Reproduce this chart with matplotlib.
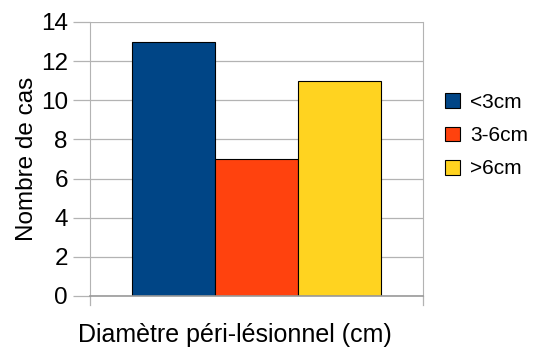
import matplotlib

matplotlib.use("Agg")
import matplotlib.pyplot as plt
import numpy as np

# Number of cases by peri-lesional diameter class
classes = ["<3cm", "3-6cm", ">6cm"]
counts = [13, 7, 11]
colors = ["#004586", "#ff420e", "#ffd320"]

plt.rcParams["font.family"] = ["Liberation Sans", "DejaVu Sans"]

fig = plt.figure(figsize=(5.39, 3.47), dpi=100)
ax = fig.add_axes([90 / 539, 51 / 347, 333 / 539, 274 / 347])

bar_w = 0.25
offsets = (np.arange(len(classes)) - 1) * bar_w
for off, val, col, lab in zip(offsets, counts, colors, classes):
    ax.bar(off, val, width=bar_w, color=col, edgecolor="black",
           linewidth=0.8, label=lab, zorder=3)

ax.set_xlim(-0.5, 0.5)
ax.set_ylim(0, 14)
ax.set_yticks(range(0, 15, 2))
ax.set_xticks([])
ax.grid(axis="y", color="#b3b3b3", linewidth=0.9, zorder=0)

for side in ["top", "bottom"]:
    ax.spines[side].set_visible(False)
ax.spines["left"].set_color("#b3b3b3")
ax.spines["right"].set_color("#b3b3b3")
ax.axhline(0, color="#999999", linewidth=1.2, zorder=4, clip_on=False)
ax.tick_params(axis="y", length=12, color="#b3b3b3", width=0.9,
               labelsize=17.5, pad=4)

# category boundary ticks below the baseline
for xb in (-0.5, 0.5):
    ax.plot([xb, xb], [0, -0.45], color="#b3b3b3", linewidth=0.9,
            clip_on=False)

ax.set_ylabel("Nombre de cas", fontsize=17.5, labelpad=2)
ax.set_xlabel("Diamètre péri-lésionnel (cm)", fontsize=18, labelpad=14)
ax.xaxis.set_label_coords(0.435, -0.1, transform=ax.transAxes)
ax.xaxis.label.set_verticalalignment("top")

ax.legend(loc="center left", bbox_to_anchor=(1.04, 0.585), frameon=False,
          fontsize=15, handlelength=0.72, handleheight=0.72,
          handletextpad=0.5, labelspacing=0.68, borderaxespad=0)

fig.savefig("out.png", dpi=100)
